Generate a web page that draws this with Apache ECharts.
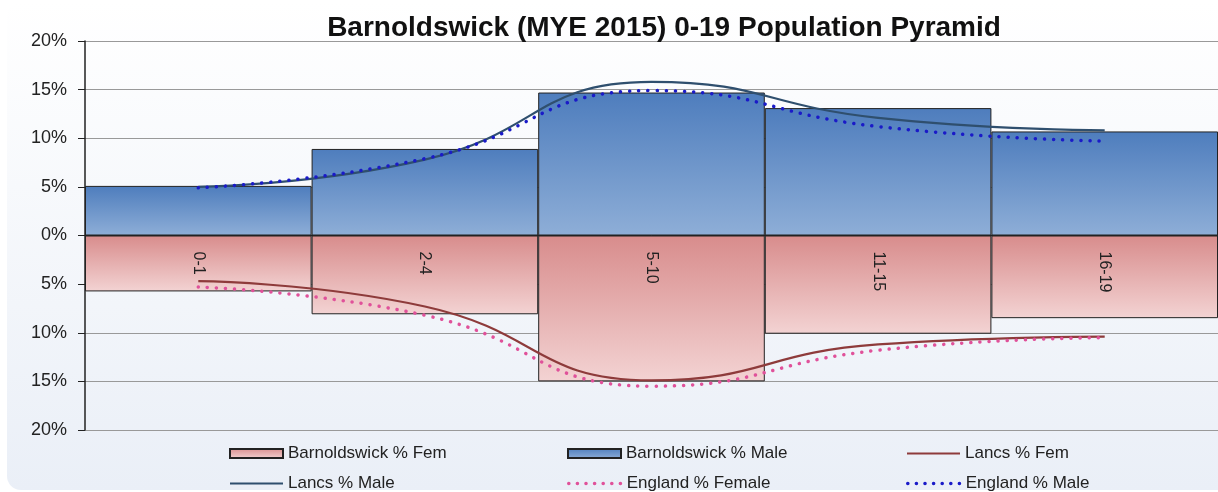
<!DOCTYPE html>
<html>
<head>
<meta charset="utf-8">
<script src="https://cdn.jsdelivr.net/npm/echarts@6/dist/echarts.min.js"></script>
<style>
html,body{margin:0;padding:0;background:#fff;}
#chart{width:1218px;height:492px;}
</style>
</head>
<body>
<div id="chart"></div>
<script>
const categories = ['0-1', '2-4', '5-10', '11-15', '16-19'];
const barnMale = [5.1, 8.9, 14.7, 13.1, 10.7];
const barnFem = [-5.75, -8.1, -15.0, -10.1, -8.5];
const lancsMale = [5.0, 7.8, 15.8, 12.1, 10.8];
const lancsFem = [-4.7, -7.3, -14.9, -11.2, -10.4];
const englandMale = [4.9, 7.9, 14.9, 11.2, 9.7];
const englandFem = [-5.3, -8.2, -15.5, -11.8, -10.5];
const yTicks = [-20, -15, -10, -5, 0, 5, 10, 15, 20];

const chart = echarts.init(document.getElementById('chart'));
const FONT = '"Liberation Sans", Arial, sans-serif';

const maleGrad = new echarts.graphic.LinearGradient(0, 0, 0, 1, [
  {offset: 0, color: '#4e7dbd'}, {offset: 1, color: '#8eaed7'}]);
const femGrad = new echarts.graphic.LinearGradient(0, 0, 0, 1, [
  {offset: 0, color: '#d88c8c'}, {offset: 1, color: '#f3d3d3'}]);

const legendText = {fontFamily: FONT, fontSize: 17, color: '#222'};
function leg(name, left, top, kind) {
  let item = {name: name};
  if (kind === 'bar') item.icon = 'rect';
  if (kind === 'line') item.itemStyle = {opacity: 0};
  if (kind === 'dot') {
    item.itemStyle = {opacity: 0};
    item.lineStyle = {width: 3.5, type: [0.1, 8.5], cap: 'round'};
  }
  return {
    left: left, top: top, padding: 0, itemWidth: 53, itemHeight: 9, selectedMode: false,
    textStyle: legendText, data: [item]
  };
}

chart.setOption({
  animation: false,
  backgroundColor: 'transparent',
  graphic: [{
    type: 'rect', z: -10, silent: true,
    shape: {x: 7, y: 2, width: 1240, height: 488, r: 14},
    style: {
      fill: new echarts.graphic.LinearGradient(0, 0, 0, 1, [
        {offset: 0, color: '#ffffff'}, {offset: 1, color: '#eaeff7'}])
    }
  }],
  title: {
    text: 'Barnoldswick (MYE 2015) 0-19 Population Pyramid',
    left: 659, textAlign: 'center', top: 9,
    textStyle: {fontFamily: FONT, fontSize: 28, fontWeight: 'bold', color: '#111'}
  },
  grid: {left: 85, right: -8, top: 41, bottom: 62, containLabel: false},
  legend: [
    leg('Barnoldswick % Fem', 229, 445, 'bar'),
    leg('Barnoldswick % Male', 567, 445, 'bar'),
    leg('Lancs % Fem', 906, 445, 'line'),
    leg('Lancs % Male', 229, 475, 'line'),
    leg('England % Female', 567, 475, 'dot'),
    leg('England % Male', 906, 475, 'dot')
  ],
  xAxis: {
    type: 'category', data: categories, boundaryGap: true, z: 10,
    offset: -194.5,
    axisLine: {onZero: false, lineStyle: {color: '#222', width: 1}},
    axisTick: {show: false},
    axisLabel: {rotate: -90, margin: 16, fontFamily: FONT, fontSize: 16, color: '#222'},
    splitLine: {show: false}
  },
  yAxis: {
    type: 'value', min: -20, max: 20, interval: 5,
    axisLine: {show: true, lineStyle: {color: '#222', width: 1.5}},
    axisTick: {show: true, length: 7, lineStyle: {color: '#222'}},
    axisLabel: {
      fontFamily: FONT, fontSize: 18, color: '#222', margin: 18,
      formatter: v => Math.abs(v) + '%'
    },
    splitLine: {show: true, lineStyle: {color: '#999', width: 1.2}}
  },
  series: [
    {name: 'Barnoldswick % Fem', type: 'bar', stack: 'pop', data: barnFem, barWidth: '100%',
     itemStyle: {color: femGrad, borderColor: '#222', borderWidth: 1}},
    {name: 'Barnoldswick % Male', type: 'bar', stack: 'pop', data: barnMale, barWidth: '100%',
     itemStyle: {color: maleGrad, borderColor: '#222', borderWidth: 1}},
    {name: 'Lancs % Fem', type: 'line', data: lancsFem, smooth: 0.5, symbol: 'none', z: 5,
     itemStyle: {color: '#8e3b3b'}, lineStyle: {color: '#8e3b3b', width: 2.2}},
    {name: 'Lancs % Male', type: 'line', data: lancsMale, smooth: 0.5, symbol: 'none', z: 5,
     itemStyle: {color: '#2f4f6e'}, lineStyle: {color: '#2f4f6e', width: 2.2}},
    {name: 'England % Female', type: 'line', data: englandFem, smooth: 0.5, symbol: 'none', z: 6,
     itemStyle: {color: '#e0519a'}, lineStyle: {color: '#e0519a', width: 3.5, type: [0.1, 9], cap: 'round'}},
    {name: 'England % Male', type: 'line', data: englandMale, smooth: 0.5, symbol: 'none', z: 6,
     itemStyle: {color: '#1a1ac8'}, lineStyle: {color: '#1a1ac8', width: 3.5, type: [0.1, 9], cap: 'round'}}
  ]
});
</script>
</body>
</html>
